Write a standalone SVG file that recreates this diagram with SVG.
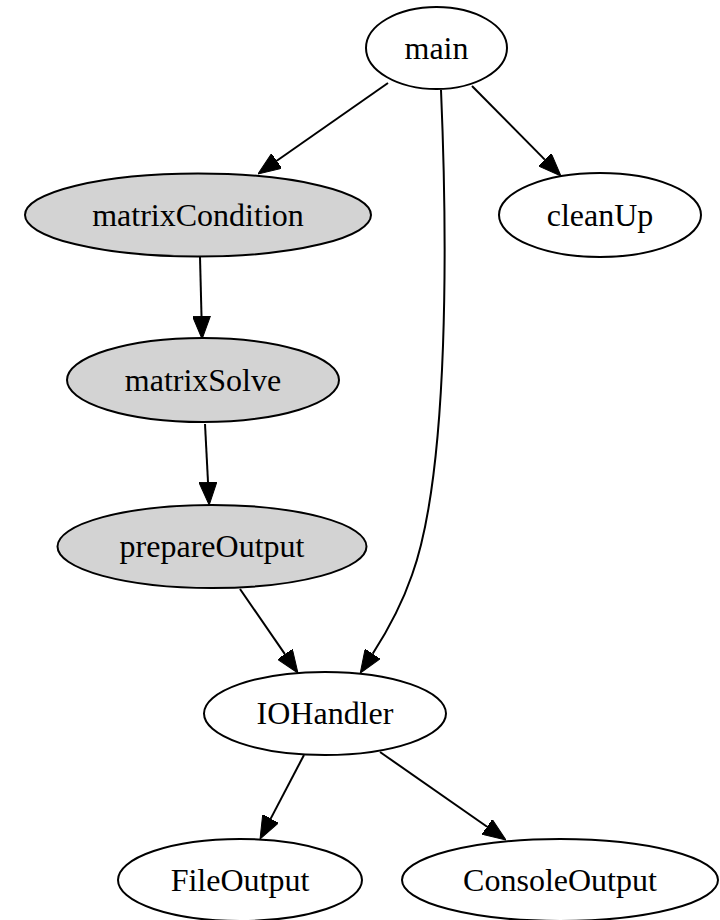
<svg xmlns="http://www.w3.org/2000/svg" width="720" height="920" viewBox="0 0 720 920">
<style>
.n ellipse{fill:#fff;stroke:#000;stroke-width:2}
.g ellipse{fill:#d3d3d3}
text{font-family:"Liberation Serif","Times New Roman",serif;font-size:32px;text-anchor:middle;fill:#000}
.e path{fill:none;stroke:#000;stroke-width:2;marker-end:url(#ah)}
</style>
<defs>
<marker id="ah" viewBox="0 0 23 18" refX="0" refY="9" markerWidth="23" markerHeight="18" markerUnits="userSpaceOnUse" orient="auto">
<path d="M0,0 L23,9 L0,18 z" fill="#000" stroke="#000" stroke-width="1"/>
</marker>
</defs>
<rect width="720" height="920" fill="#fff"/>
<g id="edges" class="e">
<path d="M388,83 L276.8,160.8"/>
<path d="M472,86 L544.8,159.6"/>
<path d="M441,90 C447,230 450,470 412,575 C402,604 388,630 372.7,653.8"/>
<path d="M200,257 L201.5,316"/>
<path d="M205,424 L208,482"/>
<path d="M240,589 L284.9,654.1"/>
<path d="M304,755 L270.7,818.6"/>
<path d="M380,752 L487.1,826.8"/>
</g>
<g id="main" class="n"><ellipse cx="436.5" cy="48" rx="70.5" ry="41"/><text x="436.5" y="58.5">main</text></g>
<g id="matrixCondition" class="n g"><ellipse cx="198" cy="215" rx="173" ry="41.5"/><text x="198" y="225.5">matrixCondition</text></g>
<g id="cleanUp" class="n"><ellipse cx="600" cy="215" rx="101" ry="42"/><text x="600" y="225.5">cleanUp</text></g>
<g id="matrixSolve" class="n g"><ellipse cx="203" cy="380" rx="136" ry="42"/><text x="203" y="390.5">matrixSolve</text></g>
<g id="prepareOutput" class="n g"><ellipse cx="212" cy="546.5" rx="154.5" ry="41.5"/><text x="212" y="557">prepareOutput</text></g>
<g id="IOHandler" class="n"><ellipse cx="325" cy="713.5" rx="121" ry="41.5"/><text x="325" y="724">IOHandler</text></g>
<g id="FileOutput" class="n"><ellipse cx="240" cy="880" rx="122" ry="41"/><text x="240" y="890.5">FileOutput</text></g>
<g id="ConsoleOutput" class="n"><ellipse cx="560" cy="880" rx="158" ry="41"/><text x="560" y="890.5">ConsoleOutput</text></g>
</svg>
